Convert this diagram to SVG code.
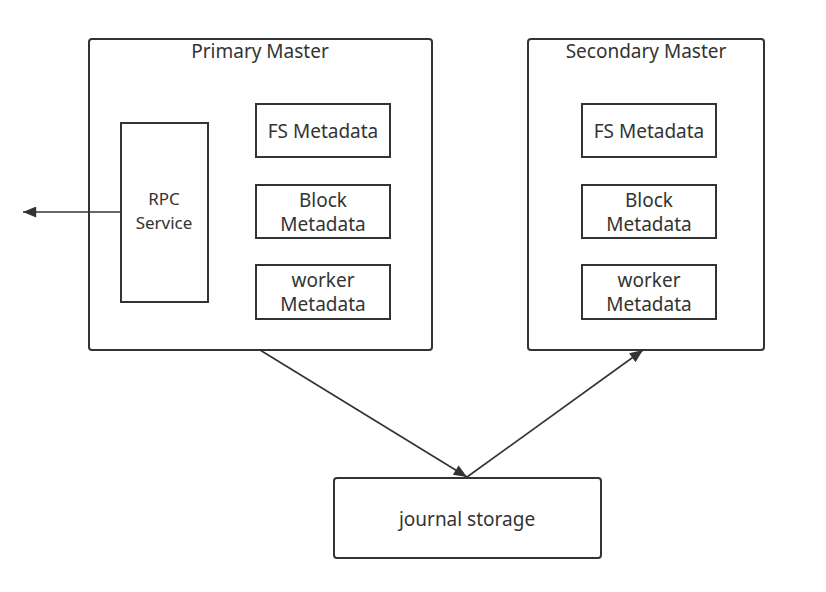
<svg xmlns="http://www.w3.org/2000/svg" width="826" height="592" viewBox="0 0 826 592">
<defs>
<style>
.box{fill:#fff;stroke:#333;stroke-width:2}
.t{font-family:"Noto Sans","Liberation Sans",sans-serif;font-size:19px;fill:#333;text-anchor:middle}
.s{font-size:17px}
.c{stroke:#333;stroke-width:1.6;fill:none}
</style>
<marker id="a" viewBox="0 0 12 10" refX="12" refY="5" markerWidth="14" markerHeight="11" markerUnits="userSpaceOnUse" orient="auto"><path d="M0,0 L12,5 L0,10 Z" fill="#333"/></marker>
</defs>
<rect width="826" height="592" fill="#fff"/>
<g id="primary">
<rect class="box" x="89" y="39" width="343" height="311" rx="3"/>
<text class="t" x="260" y="58">Primary Master</text>
</g>
<g id="rpc">
<rect class="box" x="121" y="123" width="87" height="179"/>
<text class="t s" x="164" y="205">RPC</text>
<text class="t s" x="164" y="229">Service</text>
</g>
<g id="fs1">
<rect class="box" x="256" y="104" width="134" height="53"/>
<text class="t" x="323" y="138">FS Metadata</text>
</g>
<g id="block1">
<rect class="box" x="256" y="185" width="134" height="53"/>
<text class="t" x="323" y="207">Block</text>
<text class="t" x="323" y="231">Metadata</text>
</g>
<g id="worker1">
<rect class="box" x="256" y="265" width="134" height="54"/>
<text class="t" x="323" y="287">worker</text>
<text class="t" x="323" y="311">Metadata</text>
</g>
<g id="secondary">
<rect class="box" x="528" y="39" width="236" height="311" rx="3"/>
<text class="t" x="646" y="58">Secondary Master</text>
</g>
<g id="fs2">
<rect class="box" x="582" y="104" width="134" height="53"/>
<text class="t" x="649" y="138">FS Metadata</text>
</g>
<g id="block2">
<rect class="box" x="582" y="185" width="134" height="53"/>
<text class="t" x="649" y="207">Block</text>
<text class="t" x="649" y="231">Metadata</text>
</g>
<g id="worker2">
<rect class="box" x="582" y="265" width="134" height="54"/>
<text class="t" x="649" y="287">worker</text>
<text class="t" x="649" y="311">Metadata</text>
</g>
<g id="journal">
<rect class="box" x="334" y="478" width="267" height="80" rx="3"/>
<text class="t" x="467" y="526">journal storage</text>
</g>
<g id="connectors">
<line class="c" x1="121" y1="212" x2="23" y2="212" marker-end="url(#a)"/>
<line class="c" x1="260" y1="350" x2="467" y2="477" marker-end="url(#a)"/>
<line class="c" x1="467" y1="477" x2="643" y2="350" marker-end="url(#a)"/>
</g>
</svg>
